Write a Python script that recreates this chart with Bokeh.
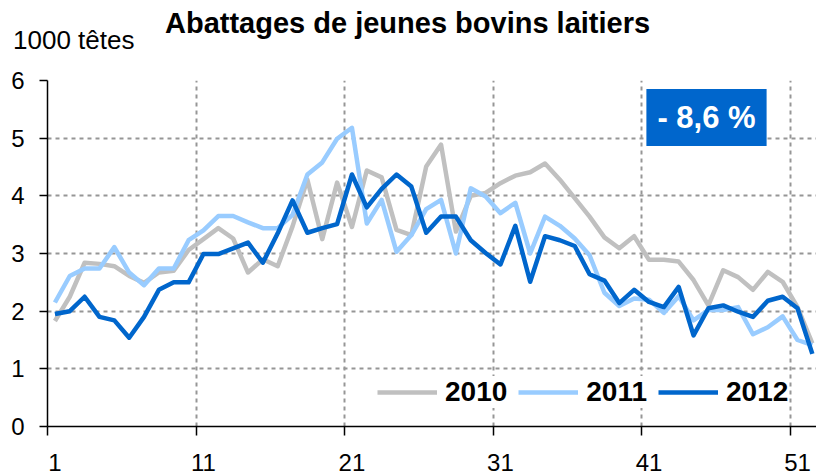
from bokeh.plotting import figure
from bokeh.layouts import column
from bokeh.models import (FixedTicker, Label, Legend, LegendItem, Div,
                          Range1d, ColumnDataSource)
from bokeh.embed import file_html
from bokeh.resources import INLINE

# ---------------- data ----------------
weeks = list(range(1, 53))
y2010 = [1.83, 2.25, 2.84, 2.82, 2.78, 2.61, 2.49, 2.67, 2.70, 3.06,
         3.25, 3.44, 3.26, 2.67, 2.90, 2.78, 3.47, 4.28, 3.25, 4.23,
         3.46, 4.44, 4.32, 3.41, 3.32, 4.51, 4.89, 3.38, 4.00, 4.05,
         4.22, 4.35, 4.41, 4.56, 4.28, 3.96, 3.64, 3.28, 3.09, 3.30,
         2.89, 2.89, 2.86, 2.54, 2.10, 2.71, 2.59, 2.37, 2.68, 2.51,
         2.07, 1.44]
y2011 = [2.15, 2.61, 2.74, 2.74, 3.11, 2.67, 2.45, 2.74, 2.74, 3.23,
         3.40, 3.65, 3.65, 3.54, 3.44, 3.44, 3.67, 4.37, 4.58, 4.99,
         5.18, 3.52, 3.93, 3.03, 3.32, 3.77, 3.93, 3.00, 4.13, 3.99,
         3.70, 3.88, 3.00, 3.64, 3.48, 3.26, 2.97, 2.32, 2.09, 2.22,
         2.20, 1.97, 2.26, 1.84, 2.02, 2.02, 2.07, 1.60, 1.72, 1.91,
         1.50, 1.41]
y2012 = [1.95, 2.00, 2.25, 1.90, 1.84, 1.54, 1.90, 2.37, 2.50, 2.50,
         2.99, 2.99, 3.09, 3.19, 2.84, 3.35, 3.92, 3.36, 3.44, 3.51,
         4.37, 3.80, 4.12, 4.37, 4.16, 3.36, 3.64, 3.64, 3.23, 3.01,
         2.81, 3.48, 2.51, 3.30, 3.23, 3.13, 2.64, 2.53, 2.14, 2.37,
         2.16, 2.07, 2.42, 1.58, 2.05, 2.10, 1.99, 1.90, 2.18, 2.25,
         2.05, 1.26]
series_names = ["2010", "2011", "2012"]
series_colors = ["#C0C0C0", "#99CCFF", "#0066CC"]
x_tick_labels = [1, 11, 21, 31, 41, 51]
x_boundaries = [0.5, 10.5, 20.5, 30.5, 40.5, 50.5]
y_ticks = [0, 1, 2, 3, 4, 5, 6]
title_text = "Abattages de jeunes bovins laitiers"
unit_text = "1000 têtes"
badge_text = "- 8,6 %"

FONT = "Liberation Sans"
W = 816
HEADER_H = 60

# ---------------- header (title + unit), plain HTML text ----------------
header_html = (
    f'<div style="position:relative;width:{W}px;height:{HEADER_H}px;'
    f'font-family:\'{FONT}\';color:black;">'
    f'<span style="position:absolute;left:165px;top:9px;font-size:29px;'
    f'font-weight:bold;line-height:1;white-space:nowrap;">{title_text}</span>'
    f'<span style="position:absolute;left:13px;top:27px;font-size:26px;'
    f'line-height:1;white-space:nowrap;">{unit_text}</span>'
    f'</div>'
)
head = Div(text=header_html, width=W, height=HEADER_H, margin=0)

# ---------------- main chart ----------------
src = ColumnDataSource(dict(week=weeks, y2010=y2010, y2011=y2011, y2012=y2012))

p = figure(width=W, height=475 - HEADER_H, output_backend="svg", toolbar_location=None,
           x_range=Range1d(0.5, 52.28), y_range=Range1d(0, 6),
           min_border_left=47, min_border_right=0, min_border_top=80 - HEADER_H,
           min_border_bottom=49)
p.outline_line_color = None
p.background_fill_color = "white"
p.border_fill_color = "white"

# grid
p.xgrid.ticker = FixedTicker(ticks=x_boundaries[1:])
p.ygrid.ticker = FixedTicker(ticks=y_ticks[1:])
for g in (p.xgrid[0], p.ygrid[0]):
    g.grid_line_color = "#969696"
    g.grid_line_width = 2
    g.grid_line_dash = "4 4"

# x axis: labels at category centres, tick marks at category boundaries
ax = p.xaxis[0]
ax.ticker = FixedTicker(ticks=x_tick_labels, minor_ticks=x_boundaries)
ax.major_tick_line_color = None
ax.major_tick_out = 9
ax.major_tick_in = 0
ax.minor_tick_line_color = "black"
ax.minor_tick_line_width = 1.5
ax.minor_tick_out = 9
ax.minor_tick_in = 0
ax.axis_line_color = "black"
ax.axis_line_width = 1.5
ax.major_label_text_font = FONT
ax.major_label_text_font_size = "24px"
ax.major_label_text_color = "black"
ax.major_label_standoff = 18

# y axis
ay = p.yaxis[0]
ay.ticker = FixedTicker(ticks=y_ticks)
ay.major_label_text_font = FONT
ay.major_label_text_font_size = "24px"
ay.major_label_text_color = "black"
ay.major_label_standoff = 15
ay.major_tick_out = 8
ay.major_tick_in = 0
ay.major_tick_line_color = "black"
ay.major_tick_line_width = 1.5
ay.minor_tick_line_color = None
ay.axis_line_color = "black"
ay.axis_line_width = 1.5

# lines
renderers = []
for name, col in zip(series_names, series_colors):
    r = p.line("week", "y" + name, source=src, line_color=col, line_width=4.5,
               line_join="round")
    renderers.append(r)

legend = Legend(items=[LegendItem(label=n, renderers=[r]) for n, r in zip(series_names, renderers)],
                orientation="horizontal", location=(330, 18),
                label_text_font=FONT, label_text_font_style="bold",
                label_text_font_size="28px", label_text_color="black",
                glyph_width=60, glyph_height=20, label_standoff=8, spacing=11,
                padding=10, margin=0, border_line_color=None,
                background_fill_color="white", background_fill_alpha=1.0)
p.add_layout(legend)

# badge
p.add_layout(Label(x=659, y=309, x_units="screen", y_units="screen", text=badge_text,
                   text_font=FONT, text_font_style="bold", text_font_size="31px",
                   text_color="white", text_align="center", text_baseline="middle",
                   background_fill_color="#0066CC", padding=11))

layout = column(head, p, spacing=0)
open("out.html", "w").write(file_html(layout, INLINE))
